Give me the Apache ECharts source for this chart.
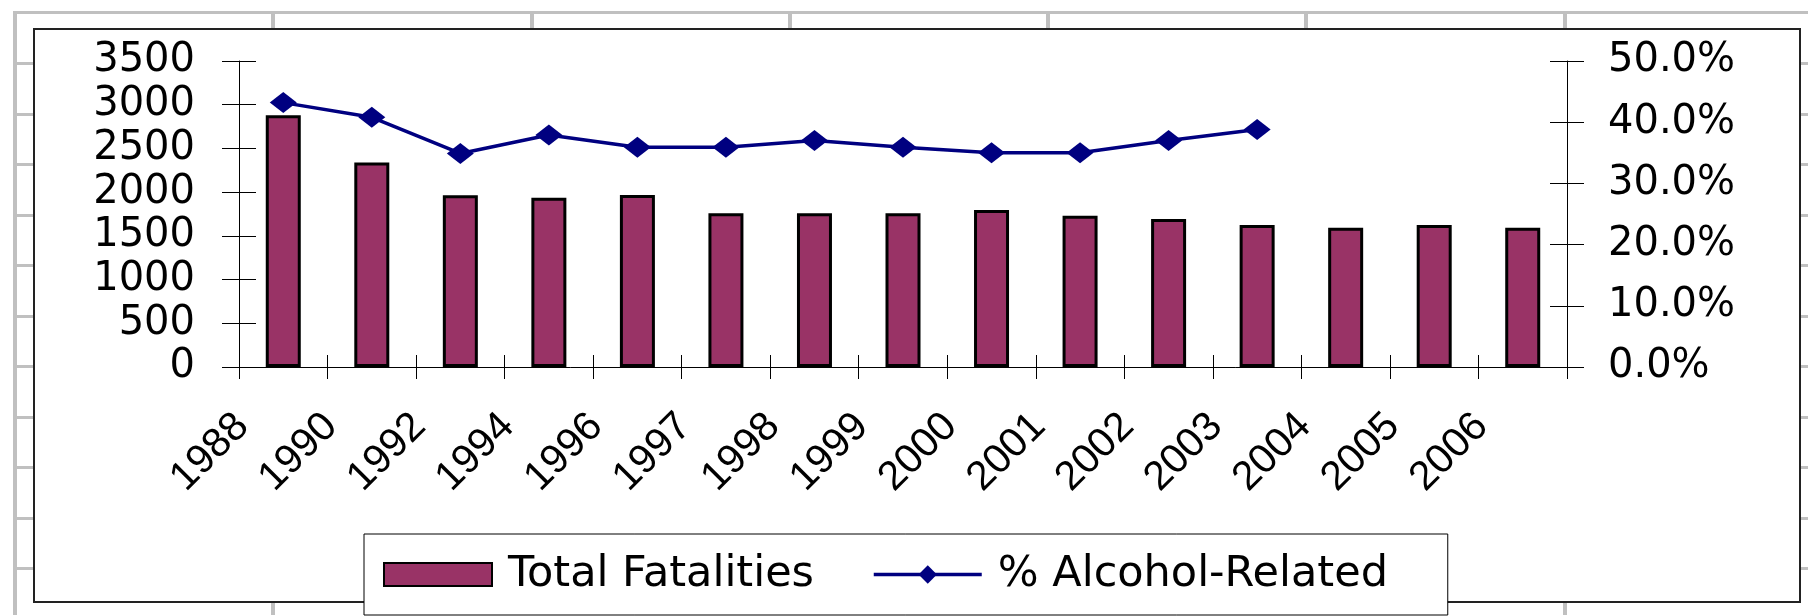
<!DOCTYPE html>
<html>
<head>
<meta charset="utf-8">
<script src="https://cdn.jsdelivr.net/npm/echarts@6/dist/echarts.min.js"></script>
<style>
  html, body { margin: 0; padding: 0; background: #fff; }
  #sheet { position: relative; width: 1810px; height: 616px; overflow: hidden; }
  .gl { position: absolute; background: #c0c0c0; }
  #frame { position: absolute; left: 33px; top: 28px; width: 1768px; height: 575px;
           box-sizing: border-box; border: 2px solid #222; background: #fff; }
  #chart { position: absolute; left: 0; top: 0; width: 1810px; height: 616px; }
</style>
</head>
<body>
<div id="sheet"><div id="frame"></div><div id="chart"></div></div>
<script>
// data
const years = ['1988', '1990', '1992', '1994', '1996', '1997', '1998', '1999',
  '2000', '2001', '2002', '2003', '2004', '2005', '2006'];
const fatalities = [2880, 2340, 1965, 1935, 1968, 1760, 1760, 1760,
  1795, 1730, 1692, 1625, 1592, 1625, 1592];
const alcoholPct = [0.432, 0.408, 0.349, 0.379, 0.359, 0.359, 0.370, 0.359,
  0.350, 0.350, 0.370, 0.388, null, null, null];
const countAxis = { min: 0, max: 3500, step: 500 };
const pctAxis = { min: 0, max: 0.5, step: 0.1 };

// spreadsheet cell lines behind the chart
const sheet = document.getElementById('sheet');
const colX = [15, 273, 532, 790, 1048, 1306, 1565];
const rowY = [12, 63, 114, 164, 215, 265, 316, 366, 417, 467, 518, 568];
colX.forEach(x => {
  const d = document.createElement('div');
  d.className = 'gl';
  d.style.cssText = `left:${x - 2}px;top:${rowY[0] - 1}px;width:4px;height:${616 - rowY[0]}px`;
  sheet.insertBefore(d, sheet.firstChild);
});
rowY.forEach(y => {
  const d = document.createElement('div');
  d.className = 'gl';
  d.style.cssText = `left:${colX[0] - 2}px;top:${y - 1}px;width:${1810 - colX[0]}px;height:3px`;
  sheet.insertBefore(d, sheet.firstChild);
});

const black = { color: '#000', width: 1 };
const countLabel = v => String(v);
const pctLabel = v => (v * 100).toFixed(1) + '%';

const chart = echarts.init(document.getElementById('chart'), null, { renderer: 'canvas' });

chart.setOption({
  animation: false,
  textStyle: { fontFamily: 'DejaVu Sans', color: '#000' },
  grid: { left: 239, right: 243, top: 61, bottom: 249, containLabel: false, outerBoundsMode: 'none' },
  legend: {
    left: 364,
    top: 534,
    orient: 'horizontal',
    padding: [19, 25, 19, 19],
    itemGap: 29,
    itemWidth: 108,
    itemHeight: 23,
    borderColor: '#000',
    borderWidth: 1,
    backgroundColor: '#fff',
    selectedMode: false,
    textStyle: { fontFamily: 'DejaVu Sans', fontSize: 43, color: '#000', lineHeight: 30, padding: [0, 0, 0, 11] },
    data: [
      { name: 'Total Fatalities', icon: 'rect', textStyle: { width: 335 } },
      { name: '% Alcohol-Related', textStyle: { width: 425 }, lineStyle: { width: 3.5, color: '#000080' } }
    ]
  },
  xAxis: [
    {
      type: 'category', data: years, position: 'bottom', boundaryGap: true,
      axisLine: { show: true, onZero: false, lineStyle: black },
      axisTick: { show: true, inside: false, length: 12, interval: 0, lineStyle: black },
      axisLabel: {
        interval: 0, rotate: 45, margin: 12, padding: [0, 58, 0, 0],
        fontFamily: 'Liberation Sans', fontSize: 41, color: '#000'
      },
      splitLine: { show: false }
    },
    {
      type: 'category', data: years, position: 'bottom', boundaryGap: true,
      axisLine: { show: false, onZero: false },
      axisTick: { show: true, inside: true, length: 12, interval: 0, lineStyle: black },
      axisLabel: { show: false },
      splitLine: { show: false }
    }
  ],
  yAxis: [
    {
      type: 'value', position: 'left', min: countAxis.min, max: countAxis.max, interval: countAxis.step,
      axisLine: { show: true, lineStyle: black },
      axisTick: { show: true, inside: false, length: 17, lineStyle: black },
      axisLabel: { margin: 44, fontSize: 40, color: '#000', formatter: countLabel },
      splitLine: { show: false }
    },
    {
      type: 'value', position: 'right', min: pctAxis.min, max: pctAxis.max, interval: pctAxis.step,
      axisLine: { show: true, lineStyle: black },
      axisTick: { show: true, inside: false, length: 17, lineStyle: black },
      axisLabel: { margin: 41, fontSize: 40, color: '#000', formatter: pctLabel },
      splitLine: { show: false }
    },
    {
      type: 'value', position: 'left', min: countAxis.min, max: countAxis.max, interval: countAxis.step,
      axisLine: { show: false },
      axisTick: { show: true, inside: true, length: 17, lineStyle: black },
      axisLabel: { show: false },
      splitLine: { show: false }
    },
    {
      type: 'value', position: 'right', min: pctAxis.min, max: pctAxis.max, interval: pctAxis.step,
      axisLine: { show: false },
      axisTick: { show: true, inside: true, length: 17, lineStyle: black },
      axisLabel: { show: false },
      splitLine: { show: false }
    }
  ],
  series: [
    {
      name: 'Total Fatalities',
      type: 'bar',
      xAxisIndex: 0,
      yAxisIndex: 0,
      data: fatalities,
      barWidth: 35,
      itemStyle: { color: '#993366', borderColor: '#000', borderWidth: 3 }
    },
    {
      name: '% Alcohol-Related',
      type: 'line',
      xAxisIndex: 0,
      yAxisIndex: 1,
      data: alcoholPct,
      symbol: 'diamond',
      symbolSize: [27, 21],
      showAllSymbol: true,
      connectNulls: false,
      lineStyle: { color: '#000080', width: 3.5 },
      itemStyle: { color: '#000080' },
      z: 5
    }
  ]
});
</script>
</body>
</html>
